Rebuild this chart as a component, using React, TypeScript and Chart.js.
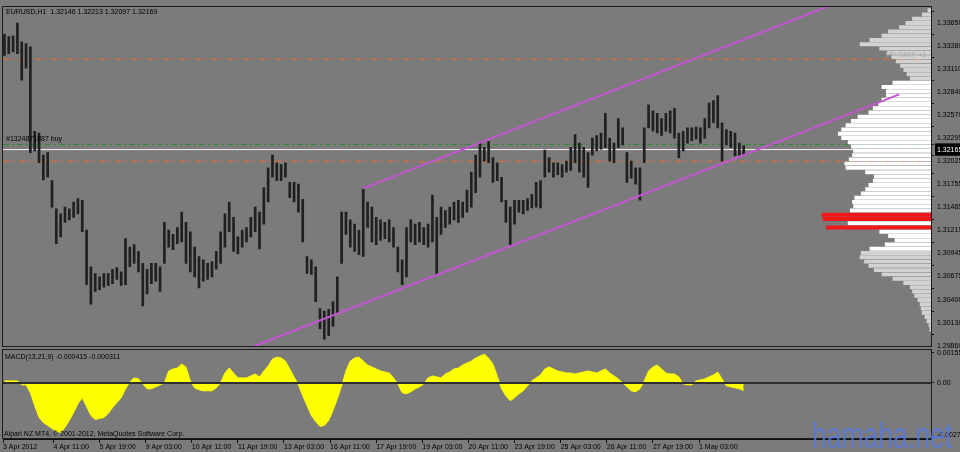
import React, { useEffect, useRef } from 'react';
import { Chart, registerables } from 'chart.js';

Chart.register(...registerables);

// ---------- texts ----------
const symbolTitle = 'EURUSD,H1  1.32146 1.32213 1.32097 1.32169';
const macdTitle = 'MACD(13,21,9) -0.000415 -0.000311';
const copyrightText = 'Alpari NZ MT4, \u00A9 2001-2012, MetaQuotes Software Corp.';
const orderText = '#1324871887 buy';
const vpText = 'VP GMT +1';
const watermarkText = 'hamaha.net';

// ---------- time axis (hours of trading since 3 Apr 2012 00:00) ----------
const barHours = 3; // every drawn bar groups three hourly candles
const timeMin = 0;
const timeMax = 644;
const timeTickHours = [0, 35, 67, 99, 131, 163, 195, 227, 259, 291, 323, 355, 387, 419, 451, 483];
const timeTickLabels = [
  '3 Apr 2012', '4 Apr 11:00', '5 Apr 19:00', '9 Apr 03:00', '10 Apr 11:00', '11 Apr 19:00',
  '13 Apr 03:00', '16 Apr 11:00', '17 Apr 19:00', '19 Apr 03:00', '20 Apr 11:00', '23 Apr 19:00',
  '25 Apr 03:00', '26 Apr 11:00', '27 Apr 19:00', '1 May 03:00',
];

// ---------- price (EURUSD) ----------
const highs = [
  1.3352, 1.3349, 1.3350, 1.3365, 1.3343, 1.3341, 1.3337, 1.3238, 1.3236, 1.3210,
  1.3213, 1.3180, 1.3147, 1.3141, 1.3149, 1.3147, 1.3155, 1.3159, 1.3157, 1.3122,
  1.3079, 1.3071, 1.3067, 1.3071, 1.3071, 1.3076, 1.3078, 1.3073, 1.3112, 1.3102,
  1.3105, 1.3097, 1.3083, 1.3076, 1.3083, 1.3083, 1.3079, 1.3131, 1.3122, 1.3117,
  1.3125, 1.3143, 1.3131, 1.3120, 1.3102, 1.3091, 1.3087, 1.3083, 1.3085, 1.3097,
  1.3120, 1.3141, 1.3155, 1.3137, 1.3114, 1.3122, 1.3125, 1.3137, 1.3149, 1.3143,
  1.3172, 1.3195, 1.3210, 1.3201, 1.3199, 1.3201, 1.3178, 1.3178, 1.3176, 1.3158,
  1.3091, 1.3087, 1.3079, 1.3030, 1.3027, 1.3029, 1.3038, 1.3067, 1.3143, 1.3143,
  1.3134, 1.3129, 1.3122, 1.3170, 1.3155, 1.3149, 1.3137, 1.3134, 1.3131, 1.3134,
  1.3125, 1.3102, 1.3087, 1.3125, 1.3134, 1.3129, 1.3131, 1.3125, 1.3129, 1.3163,
  1.3137, 1.3149, 1.3145, 1.3149, 1.3155, 1.3157, 1.3155, 1.3169, 1.3190, 1.3210,
  1.3224, 1.3219, 1.3226, 1.3207, 1.3201, 1.3184, 1.3157, 1.3149, 1.3157, 1.3157,
  1.3157, 1.3159, 1.3164, 1.3178, 1.3180, 1.3216, 1.3207, 1.3201, 1.3201, 1.3199,
  1.3203, 1.3219, 1.3234, 1.3224, 1.3219, 1.3213, 1.3230, 1.3233, 1.3236, 1.3259,
  1.3230, 1.3224, 1.3253, 1.3242, 1.3213, 1.3203, 1.3195, 1.3195, 1.3242, 1.3269,
  1.3262, 1.3259, 1.3253, 1.3259, 1.3262, 1.3265, 1.3236, 1.3238, 1.3242, 1.3242,
  1.3243, 1.3242, 1.3253, 1.3271, 1.3274, 1.3280, 1.3248, 1.3240, 1.3238, 1.3236,
  1.3224, 1.32213,
];
const lows = [
  1.3327, 1.3329, 1.3331, 1.3329, 1.3298, 1.3312, 1.3213, 1.3215, 1.3201, 1.3181,
  1.3184, 1.3149, 1.3106, 1.3114, 1.3131, 1.3134, 1.3137, 1.3141, 1.3120, 1.3058,
  1.3035, 1.3050, 1.3052, 1.3055, 1.3057, 1.3059, 1.3064, 1.3057, 1.3058, 1.3079,
  1.3083, 1.3073, 1.3033, 1.3047, 1.3059, 1.3062, 1.3050, 1.3083, 1.3102, 1.3099,
  1.3106, 1.3108, 1.3083, 1.3073, 1.3067, 1.3054, 1.3062, 1.3064, 1.3067, 1.3076,
  1.3083, 1.3102, 1.3120, 1.3097, 1.3094, 1.3102, 1.3108, 1.3114, 1.3120, 1.3100,
  1.3129, 1.3155, 1.3184, 1.3180, 1.3180, 1.3184, 1.3160, 1.3155, 1.3143, 1.3108,
  1.3071, 1.3070, 1.3038, 1.3006, 1.2994, 1.2998, 1.3009, 1.3024, 1.3083, 1.3117,
  1.3102, 1.3097, 1.3093, 1.3091, 1.3125, 1.3108, 1.3105, 1.3110, 1.3112, 1.3108,
  1.3102, 1.3073, 1.3058, 1.3067, 1.3108, 1.3105, 1.3108, 1.3105, 1.3102, 1.3108,
  1.3070, 1.3117, 1.3125, 1.3129, 1.3134, 1.3131, 1.3137, 1.3143, 1.3149, 1.3166,
  1.3184, 1.3203, 1.3201, 1.3178, 1.3180, 1.3155, 1.3131, 1.3105, 1.3129, 1.3143,
  1.3141, 1.3145, 1.3148, 1.3149, 1.3148, 1.3184, 1.3190, 1.3184, 1.3187, 1.3184,
  1.3190, 1.3192, 1.3201, 1.3190, 1.3184, 1.3172, 1.3210, 1.3215, 1.3217, 1.3219,
  1.3203, 1.3201, 1.3219, 1.3222, 1.3178, 1.3183, 1.3176, 1.3157, 1.3201, 1.3242,
  1.3238, 1.3236, 1.3233, 1.3238, 1.3236, 1.3230, 1.3207, 1.3215, 1.3224, 1.3227,
  1.3229, 1.3224, 1.3230, 1.3242, 1.3248, 1.3242, 1.3203, 1.3222, 1.3219, 1.3209,
  1.3210, 1.32097,
];

const priceMin = 1.29849;
const priceMax = 1.33836;
const priceTicks = [
  1.3365, 1.3338, 1.3311, 1.3284, 1.3257, 1.32295, 1.32165, 1.32025,
  1.31755, 1.31485, 1.31215, 1.30945, 1.30675, 1.304, 1.3013, 1.2986,
];
const bidPrice = 1.32165;
const orderPrice = 1.32224;
const levelPrices = [1.33224, 1.32026];

// trend channel (hour, price)
const channelUpperHours = [250, 622];
const channelUpperPrices = [1.31709, 1.34173];
const channelLowerHours = [174.5, 622];
const channelLowerPrices = [1.2986, 1.32813];

// ---------- MACD(13,21,9) histogram ----------
const macd = [
  0.000088, 0.000088, 0.000088, 0.000088, -0.000119, -0.000119, -0.000531, -0.001202, -0.001821, -0.00208,
  -0.002234, -0.002389, -0.002544, -0.002595, -0.002337, -0.001976, -0.001563, -0.001099, -0.000789, -0.001254,
  -0.001718, -0.001925, -0.001873, -0.001821, -0.001615, -0.001305, -0.001047, -0.000789, -0.000325, 0.000036,
  0.000243, 0.000191, -0.000067, -0.000325, -0.000325, -0.000222, -0.000119, -0.000015, 0.000604, 0.000707,
  0.000759, 0.000965, 0.00081, 0.000088, -0.000273, -0.000377, -0.000428, -0.000428, -0.000428, -0.000273,
  -0.000015, 0.0005, 0.000759, 0.0005, 0.000243, 0.000243, 0.000243, 0.000346, 0.000449, 0.000294,
  0.000604, 0.000862, 0.001223, 0.001326, 0.001275, 0.00112, 0.000707, 0.000294, -0.000119, -0.000686,
  -0.001202, -0.001718, -0.002028, -0.002286, -0.002234, -0.001976, -0.00146, -0.000841, -0.00017, 0.000604,
  0.00112, 0.001275, 0.001326, 0.00112, 0.000913, 0.00081, 0.000707, 0.000604, 0.000552, 0.0005,
  0.000243, -0.000067, -0.000531, -0.000583, -0.00048, -0.000325, -0.000222, -0.000067, 0.000243, 0.000346,
  0.000294, 0.000243, 0.000449, 0.000552, 0.000707, 0.000759, 0.000913, 0.001017, 0.00112, 0.001275,
  0.001378, 0.001481, 0.001275, 0.000965, 0.000346, -0.000325, -0.000686, -0.000944, -0.000789, -0.000583,
  -0.000428, -0.00017, 0.000088, 0.000243, 0.000397, 0.000707, 0.00081, 0.000707, 0.000604, 0.000552,
  0.0005, 0.0005, 0.000449, 0.0005, 0.000552, 0.000604, 0.000552, 0.0005, 0.000604, 0.000707,
  0.0005, 0.000346, 0.000191, -0.000015, -0.000222, -0.000428, -0.00048, -0.000325, 0.000088, 0.000604,
  0.00081, 0.000913, 0.000707, 0.0005, 0.000449, 0.000449, 0.000294, -0.000067, -0.000119, -0.000119,
  0.000088, 0.000139, 0.000191, 0.000294, 0.000397, 0.000552, 0.000191, -0.00017, -0.000222, -0.000273,
  -0.000325, -0.000415,
];
const macdMin = -0.00294;
const macdMax = 0.00186;
const macdTicks = [0.00155, 0, -0.00273];
const macdTickLabels = ['0.00155', '0.00', '-0.00273'];

// ---------- volume profile (relative volume, POC = 100) ----------
const vpPrices = [
  1.3380, 1.3375, 1.3370, 1.3365, 1.3360, 1.3355, 1.3350, 1.3345, 1.3340, 1.3335,
  1.3330, 1.3325, 1.3320, 1.3315, 1.3310, 1.3305, 1.3300, 1.3295, 1.3290, 1.3285,
  1.3280, 1.3275, 1.3270, 1.3265, 1.3260, 1.3255, 1.3250, 1.3245, 1.3240, 1.3235,
  1.3230, 1.3225, 1.3220, 1.3215, 1.3210, 1.3205, 1.3200, 1.3195, 1.3190, 1.3185,
  1.3180, 1.3175, 1.3170, 1.3165, 1.3160, 1.3155, 1.3150, 1.3145, 1.3140, 1.3135,
  1.3130, 1.3125, 1.3120, 1.3115, 1.3110, 1.3105, 1.3100, 1.3095, 1.3090, 1.3085,
  1.3080, 1.3075, 1.3070, 1.3065, 1.3060, 1.3055, 1.3050, 1.3045, 1.3040, 1.3035,
  1.3030, 1.3025, 1.3020, 1.3015, 1.3010, 1.3005,
];
const vpVolumes = [
  2.8, 8, 17, 23, 29, 39, 45, 56, 65, 47,
  40, 36, 32, 28, 25, 22, 19, 35, 45, 41,
  41, 45, 48, 53, 57, 67, 73, 78, 82, 85,
  82, 76, 73, 71, 72, 75, 79, 78, 60, 52,
  53, 57, 60, 64, 70, 72, 71, 74, 100, 99,
  76, 96, 47, 39, 33, 42, 56, 64, 65, 61,
  57, 52, 45, 35, 25, 19, 17, 15, 12, 10,
  9, 8, 5.5, 3.7, 1.8, 1,
];
const vpAxisMax = 851;
const valueAreaLow = 1.3100;
const valueAreaHigh = 1.3295;
const pocThreshold = 90;

// ---------- style ----------
const BG = '#7b7b7b';
const FONT = "'Liberation Sans', Arial, sans-serif";

const decorPlugin = {
  id: 'mt4decor',
  beforeDraw(chart: any) {
    const { ctx, width, height } = chart;
    ctx.save();
    ctx.fillStyle = BG;
    ctx.fillRect(0, 0, width, height);
    ctx.restore();
  },
  afterDatasetsDraw(chart: any) {
    const { ctx, chartArea } = chart;
    const ys = chart.scales.y;
    const ym = chart.scales.ymacd;
    const L = chartArea.left;
    const R = chartArea.right;
    ctx.save();
    // MACD zero level
    const z = Math.round(ym.getPixelForValue(0));
    ctx.strokeStyle = '#2e2e2e';
    ctx.lineWidth = 2;
    ctx.beginPath();
    ctx.moveTo(L, z);
    ctx.lineTo(R, z);
    ctx.stroke();
    // panel frames
    ctx.strokeStyle = '#1c1c1c';
    ctx.lineWidth = 1;
    ctx.strokeRect(L - 0.5, Math.round(ys.top) - 0.5, R - L + 1, Math.round(ys.bottom - ys.top));
    ctx.strokeRect(L - 0.5, Math.round(ym.top) + 2.5, R - L + 1, Math.round(ym.bottom - ym.top) - 3);
    // texts
    ctx.font = `7px ${FONT}`;
    ctx.textBaseline = 'middle';
    ctx.textAlign = 'left';
    ctx.fillStyle = '#000';
    ctx.fillText(symbolTitle, L + 3, ys.top + 5);
    ctx.fillText(orderText, L + 3, ys.getPixelForValue(orderPrice) - 5);
    ctx.fillText(macdTitle, L + 2, ym.top + 10);
    ctx.fillText(copyrightText, L + 1, ym.bottom - 5);
    ctx.fillStyle = '#a9a9a9';
    ctx.font = `8px ${FONT}`;
    ctx.fillText(vpText, R - 46, ys.getPixelForValue(1.3328));
    ctx.restore();
  },
  afterDraw(chart: any) {
    const { ctx, chartArea, height } = chart;
    ctx.save();
    ctx.font = `36px ${FONT}`;
    ctx.fillStyle = 'rgba(85,120,225,0.8)';
    ctx.textBaseline = 'alphabetic';
    ctx.textAlign = 'left';
    const w = ctx.measureText(watermarkText).width;
    const targetW = 140;
    ctx.translate(chartArea.right - 119, height - 4);
    ctx.scale(targetW / w, 1);
    ctx.fillText(watermarkText, 0, 0);
    ctx.restore();
  },
};

export default function App() {
  const ref = useRef<HTMLCanvasElement>(null);

  useEffect(() => {
    document.body.style.margin = '0';
    document.body.style.background = BG;
    const canvas = ref.current;
    if (!canvas) return;

    const candleData = highs.map((h, i) => ({ x: i * barHours + 1, y: [lows[i], h] }));
    const macdData = macd.map((v, i) => ({ x: i * barHours + 1, y: v }));
    const vpData = vpPrices.map((p, i) => ({ y: p, x: vpVolumes[i] }));
    const vpColors = vpPrices.map((p, i) =>
      vpVolumes[i] >= pocThreshold ? '#f01818' : p >= valueAreaLow && p <= valueAreaHigh ? '#ffffff' : '#d2d2d2'
    );
    const hLine = (price: number) => [
      { x: timeMin, y: price },
      { x: timeMax, y: price },
    ];
    const lineFrom = (hours: number[], prices: number[]) => hours.map((h, i) => ({ x: h, y: prices[i] }));

    const font = { family: FONT, size: 7 };

    const chart = new Chart(canvas, {
      type: 'bar',
      data: {
        datasets: [
          {
            type: 'line',
            label: 'channel upper',
            data: lineFrom(channelUpperHours, channelUpperPrices),
            xAxisID: 'x',
            yAxisID: 'y',
            borderColor: '#c455d2',
            borderWidth: 2,
            pointRadius: 0,
            fill: false,
            order: 0,
          } as any,
          {
            type: 'line',
            label: 'channel lower',
            data: lineFrom(channelLowerHours, channelLowerPrices),
            xAxisID: 'x',
            yAxisID: 'y',
            borderColor: '#c455d2',
            borderWidth: 2,
            pointRadius: 0,
            fill: false,
            order: 0,
          } as any,
          {
            type: 'bar',
            label: 'volume profile',
            indexAxis: 'y',
            data: vpData,
            xAxisID: 'xvp',
            yAxisID: 'y',
            backgroundColor: vpColors,
            borderWidth: 0,
            barThickness: 3.3,
            grouped: false,
            order: 1,
          } as any,
          {
            type: 'bar',
            label: 'EURUSD H1',
            data: candleData,
            xAxisID: 'x',
            yAxisID: 'y',
            backgroundColor: '#202020',
            borderWidth: 0,
            barThickness: 2,
            grouped: false,
            order: 2,
          } as any,
          {
            type: 'line',
            label: 'bid',
            data: hLine(bidPrice),
            xAxisID: 'x',
            yAxisID: 'y',
            borderColor: '#f4f4f4',
            borderWidth: 1,
            pointRadius: 0,
            fill: false,
            order: 3,
          } as any,
          {
            type: 'line',
            label: 'order',
            data: hLine(orderPrice),
            xAxisID: 'x',
            yAxisID: 'y',
            borderColor: '#2f8a36',
            borderWidth: 1,
            borderDash: [6, 3, 2, 3],
            pointRadius: 0,
            fill: false,
            order: 3,
          } as any,
          ...levelPrices.map(
            (p) =>
              ({
                type: 'line',
                label: 'level',
                data: hLine(p),
                xAxisID: 'x',
                yAxisID: 'y',
                borderColor: '#cf6f48',
                borderWidth: 1.5,
                borderDash: [6, 4, 2, 4],
                pointRadius: 0,
                fill: false,
                order: 3,
              } as any)
          ),
          {
            type: 'line',
            label: 'MACD',
            data: macdData,
            xAxisID: 'x',
            yAxisID: 'ymacd',
            borderColor: '#ffff00',
            backgroundColor: '#ffff00',
            borderWidth: 1,
            pointRadius: 0,
            fill: 'origin',
            order: 4,
          } as any,
        ],
      },
      options: {
        animation: false,
        responsive: false,
        maintainAspectRatio: false,
        events: [],
        layout: { padding: { left: 3, top: 3, right: 0, bottom: 0 } },
        plugins: { legend: { display: false }, tooltip: { enabled: false } },
        scales: {
          x: {
            type: 'linear',
            position: 'bottom',
            min: timeMin,
            max: timeMax,
            bounds: 'data',
            offset: false,
            afterBuildTicks: (s: any) => {
              s.ticks = timeTickHours.map((v) => ({ value: v }));
            },
            afterFit: (s: any) => {
              s.height = 13;
            },
            grid: { drawOnChartArea: false, drawTicks: true, tickLength: 4, color: '#111', offset: false },
            border: { display: true, color: '#111' },
            ticks: {
              align: 'start',
              font,
              color: '#000',
              padding: 0,
              maxRotation: 0,
              autoSkip: false,
              callback: (v: any) => {
                const i = timeTickHours.indexOf(Number(v));
                return i >= 0 ? timeTickLabels[i] : '';
              },
            },
          },
          xvp: {
            type: 'linear',
            position: 'top',
            display: false,
            reverse: true,
            min: 0,
            max: vpAxisMax,
            offset: false,
          },
          y: {
            type: 'linear',
            position: 'right',
            stack: 'panes',
            stackWeight: 343,
            min: priceMin,
            max: priceMax,
            bounds: 'data',
            offset: false,
            beginAtZero: false,
            afterBuildTicks: (s: any) => {
              s.ticks = priceTicks.map((v) => ({ value: v }));
            },
            afterFit: (s: any) => {
              s.width = 29;
            },
            grid: { drawOnChartArea: false, drawTicks: true, tickLength: 3, color: '#111' },
            border: { display: false },
            ticks: {
              font,
              autoSkip: false,
              padding: 3,
              color: (c: any) => (c.tick && c.tick.value === bidPrice ? '#ffffff' : '#000000'),
              showLabelBackdrop: true,
              backdropColor: (c: any) => (c.tick && c.tick.value === bidPrice ? '#000000' : 'rgba(0,0,0,0)'),
              backdropPadding: { top: 2, bottom: 2, left: 2, right: 4 },
              callback: (v: any) => Number(v).toFixed(5),
            },
          },
          ymacd: {
            type: 'linear',
            position: 'right',
            stack: 'panes',
            stackWeight: 93,
            min: macdMin,
            max: macdMax,
            bounds: 'data',
            offset: false,
            afterBuildTicks: (s: any) => {
              s.ticks = macdTicks.map((v) => ({ value: v }));
            },
            afterFit: (s: any) => {
              s.width = 29;
            },
            grid: { drawOnChartArea: false, drawTicks: true, tickLength: 3, color: '#111' },
            border: { display: false },
            ticks: {
              font,
              autoSkip: false,
              padding: 3,
              color: '#000',
              callback: (v: any) => {
                const i = macdTicks.indexOf(Number(v));
                return i >= 0 ? macdTickLabels[i] : '';
              },
            },
          },
        },
      } as any,
      plugins: [decorPlugin],
    });

    return () => chart.destroy();
  }, []);

  return <canvas ref={ref} width={960} height={452} style={{ display: 'block' }} />;
}
